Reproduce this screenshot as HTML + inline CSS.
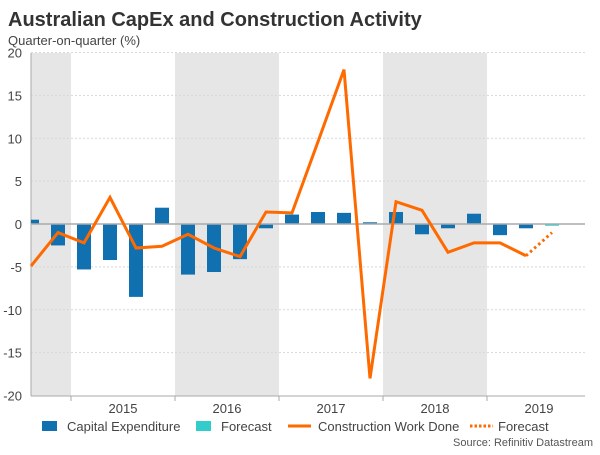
<!DOCTYPE html>
<html><head><meta charset="utf-8"><style>
body{margin:0;width:600px;height:450px;background:#fff;font-family:"Liberation Sans",sans-serif;overflow:hidden}
</style></head><body>
<svg width="600" height="450" xmlns="http://www.w3.org/2000/svg">
<text x="8" y="26" font-size="20" font-weight="bold" fill="#333">Australian CapEx and Construction Activity</text>
<text x="8" y="45" font-size="13" fill="#444">Quarter-on-quarter (%)</text>
<g id="plot"></g>
<g font-size="13" fill="#444">
<rect x="42" y="421" width="15" height="10" fill="#1170b0"/>
<text x="67" y="431">Capital Expenditure</text>
<rect x="196" y="421" width="15" height="10" fill="#33cccc"/>
<text x="221" y="431">Forecast</text>
<line x1="288" y1="426" x2="311" y2="426" stroke="#ff6a00" stroke-width="3"/>
<text x="318" y="431">Construction Work Done</text>
<line x1="470" y1="426" x2="493" y2="426" stroke="#ff6a00" stroke-width="3" stroke-dasharray="2.5,2"/>
<text x="498" y="431">Forecast</text>
</g>
<text x="593" y="446" font-size="11" fill="#555" text-anchor="end">Source: Refinitiv Datastream</text>
</svg>
<script>
const capex = [0.5,-2.5,-5.3,-4.2,-8.5,1.9,-5.9,-5.6,-4.1,-0.5,1.1,1.4,1.3,0.2,1.4,-1.2,-0.5,1.2,-1.3,-0.5];
const capexForecast = [-0.2];
const construction = [-4.9,-1.0,-2.2,3.1,-2.8,-2.6,-1.2,-2.8,-3.8,1.4,1.3,9.6,18,-18,2.6,1.6,-3.3,-2.2,-2.2,-3.7];
const constructionForecast = [-1.0];
const years = ["2015","2016","2017","2018","2019"];
const yTicks = [20,15,10,5,0,-5,-10,-15,-20];
const NS="http://www.w3.org/2000/svg";
const plot=document.getElementById('plot');
const X0=31,X1=585,Y0=53,Y1=396;
const xq=i=>32+26*i;
const y=v=>224-v*(Y1-Y0)/40;
function mk(t,a,p){const e=document.createElementNS(NS,t);for(const k in a)e.setAttribute(k,a[k]);(p||plot).appendChild(e);return e;}
// shaded bands
[[X0,71],[175,279],[383,487]].forEach((b,k)=>{
 const r=mk('rect',{x:b[0],y:Y0,width:b[1]-b[0],height:Y1-Y0,fill:'#e6e6e6'});
 
 
});
yTicks.forEach(v=>{
 if(v!==0&&v!==-20){const g=mk('line',{x1:X0,x2:X1,y1:y(v),y2:y(v),stroke:'#d8d8d8','stroke-dasharray':'2,2'});
 
 }
 const t=mk('text',{x:22,y:y(v)+5,'font-size':13,fill:'#444','text-anchor':'end'});
 t.textContent=v;
 
 
});
const ax=mk('line',{x1:X0,x2:X0,y1:Y0,y2:Y1,stroke:'#aaa'});


const bx=mk('line',{x1:X0,x2:X1,y1:Y1,y2:Y1,stroke:'#aaa'});


years.forEach((yr,k)=>{
 const tx=71+104*k;
 const tk=mk('line',{x1:tx,x2:tx,y1:Y1,y2:Y1+5,stroke:'#aaa'});
 
 
 const t=mk('text',{x:tx+52,y:413,'font-size':13,fill:'#444','text-anchor':'middle'});
 t.textContent=yr;
 
 
});
function bar(v,i,col,name){
 const w=14,x=Math.max(X0,xq(i)-w/2);
 const r=mk('rect',{x:x,width:xq(i)+w/2-x,y:Math.min(y(v),y(0)),height:Math.abs(y(v)-y(0)),fill:col});
 
 
}
capex.forEach((v,i)=>bar(v,i,'#1170b0','capex-bar'));
capexForecast.forEach((v,k)=>bar(v,capex.length+k,'#33cccc','capex-forecast-bar'));
const zl=mk('line',{x1:X0,x2:X1,y1:y(0),y2:y(0),stroke:'#aaa','stroke-width':1.5});


const pts=construction.map((v,i)=>[i===0?X0:xq(i),y(v)]);
const ln=mk('polyline',{points:pts.map(p=>p.join(',')).join(' '),fill:'none',stroke:'#ff6a00','stroke-width':3,'stroke-linejoin':'miter'});


const fp=[pts[pts.length-1]].concat(constructionForecast.map((v,k)=>[xq(construction.length+k),y(v)]));
const fl=mk('polyline',{points:fp.map(p=>p.join(',')).join(' '),fill:'none',stroke:'#ff6a00','stroke-width':3,'stroke-dasharray':'2.5,3'});


</script>
</body></html>
